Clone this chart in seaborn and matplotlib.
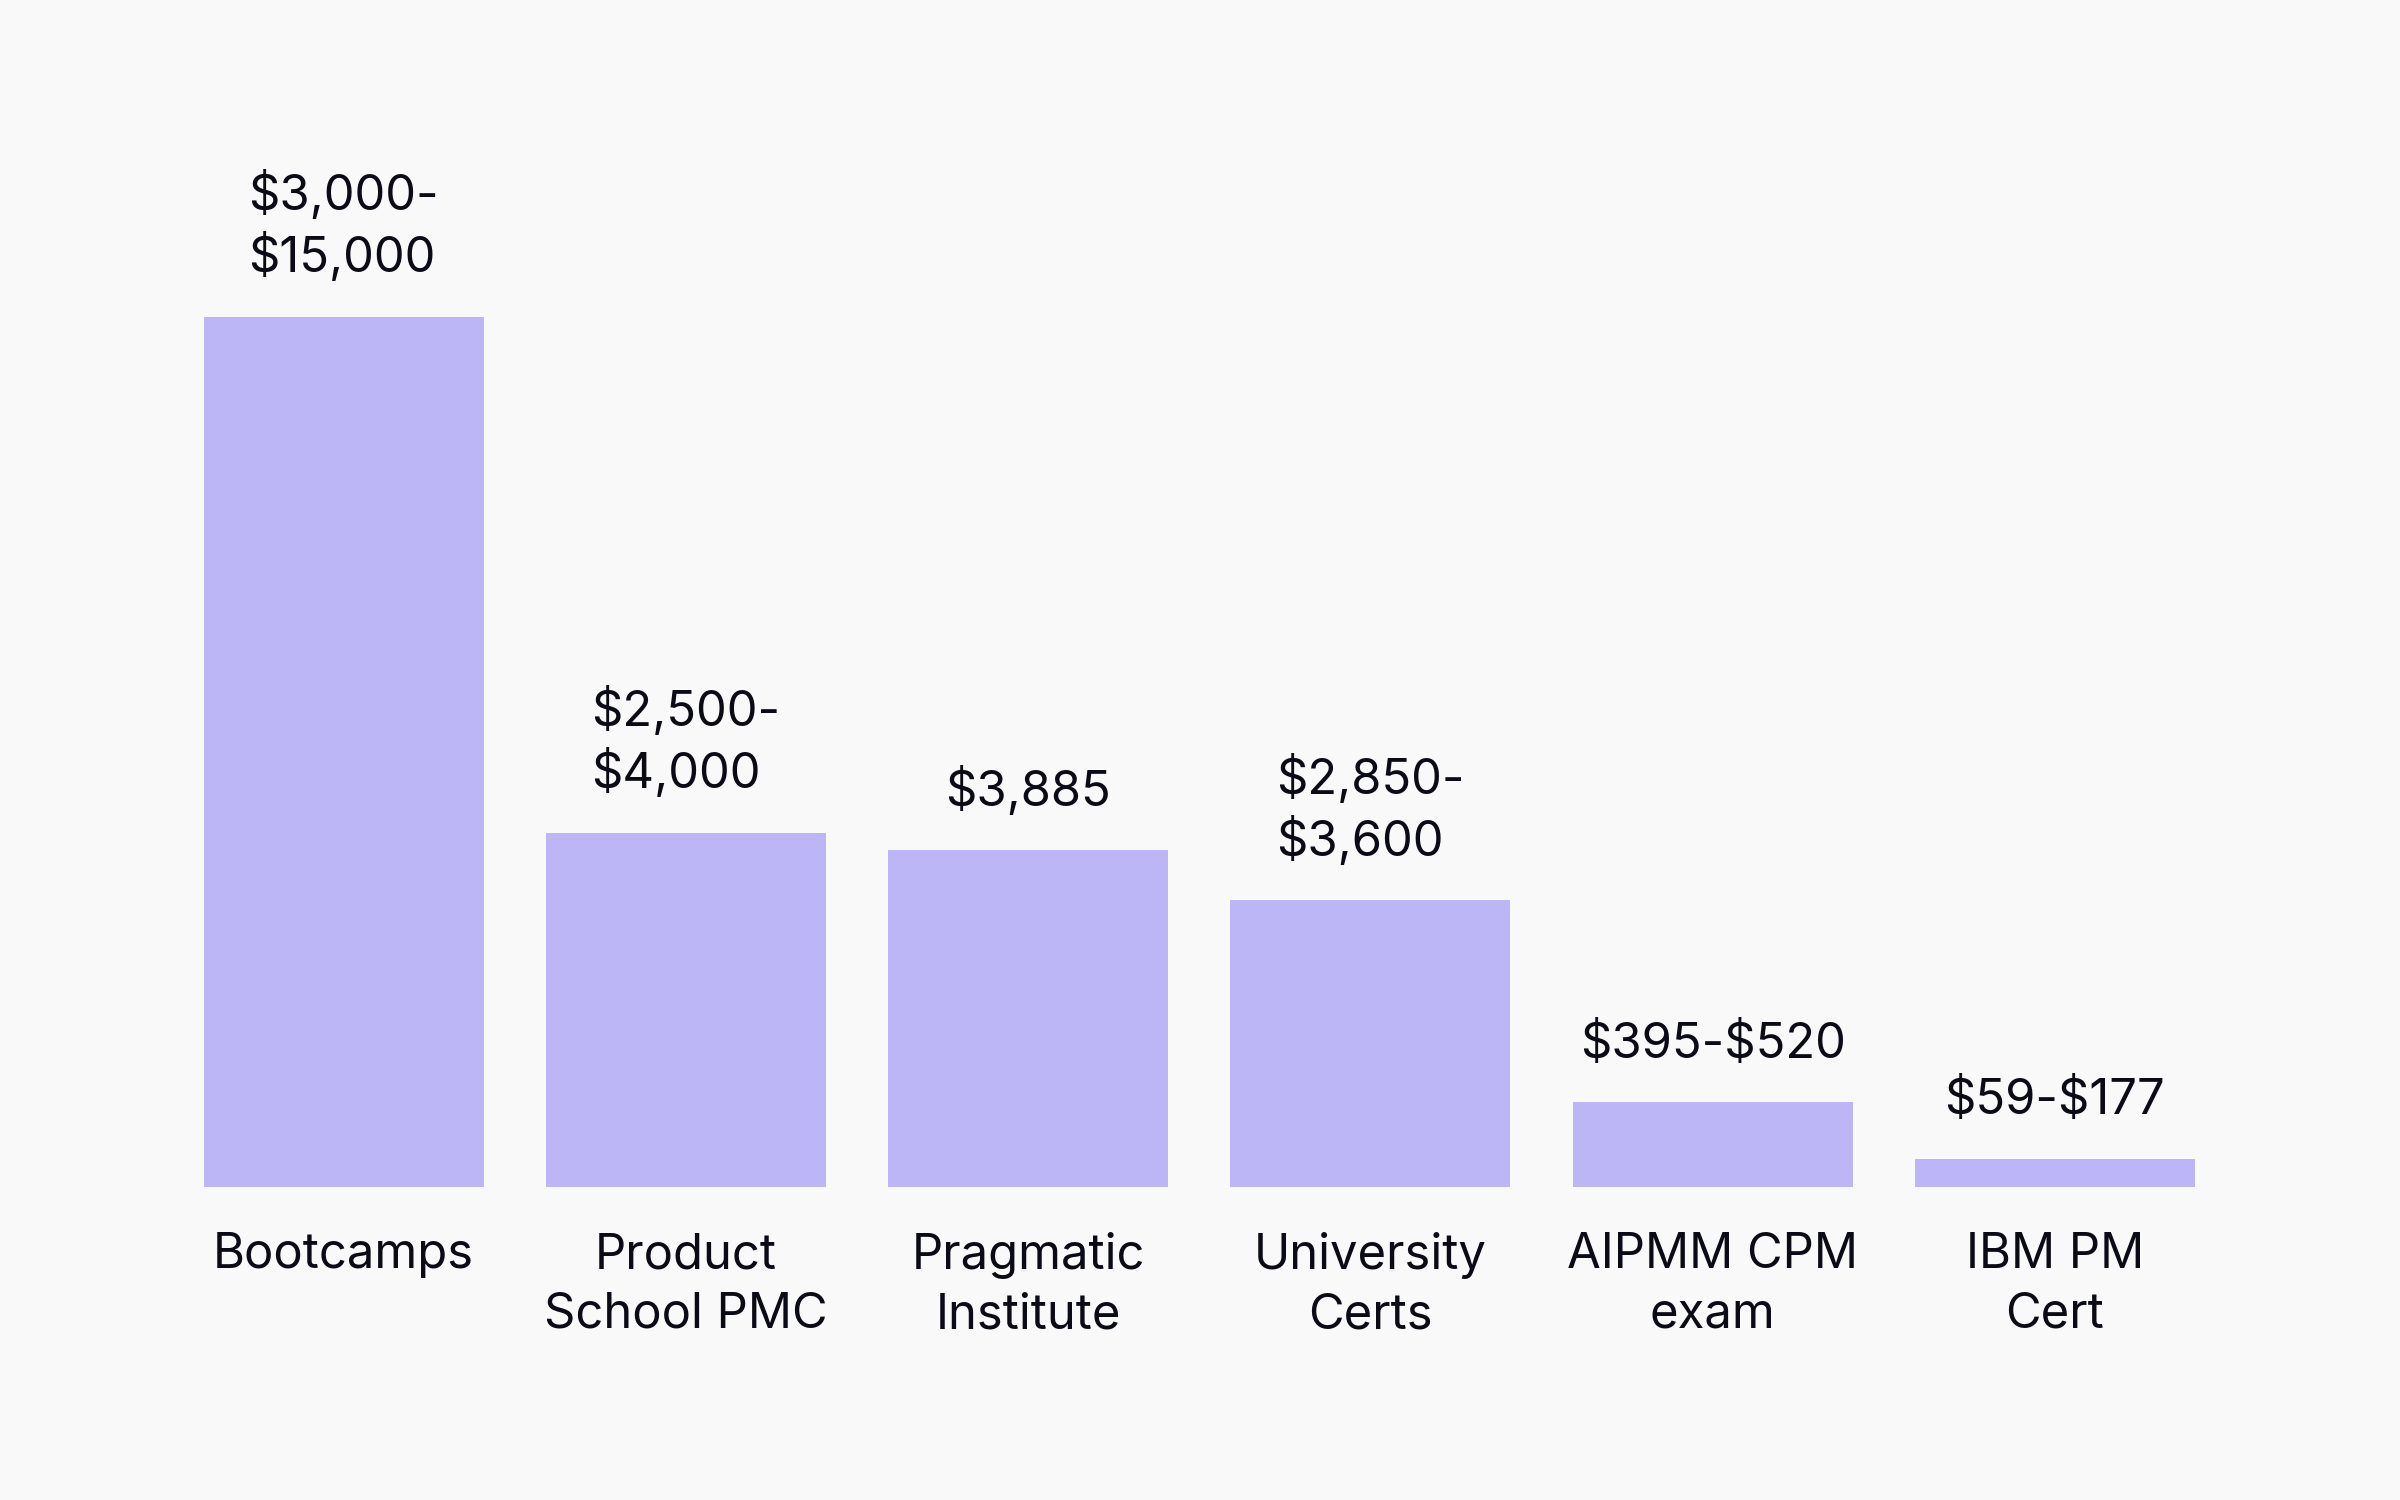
import matplotlib
matplotlib.use("Agg")
import matplotlib.pyplot as plt
import seaborn as sns
import pandas as pd

# Data (bar heights in relative units)
categories = ["Bootcamps", "Product\nSchool PMC", "Pragmatic\nInstitute",
              "University\nCerts", "AIPMM CPM\nexam", "IBM PM\nCert"]
heights = [100, 40.7, 38.7, 32.9, 9.7, 3.2]
value_labels = ["$3,000-\n$15,000", "$2,500-\n$4,000", "$3,885",
                "$2,850-\n$3,600", "$395-$520", "$59-$177"]

BG = "#f9f9f9"
BAR = "#bcb5f6"
TXT = "#0b0b16"

sns.set_theme(style="white")
plt.rcParams["font.family"] = ["Inter", "DejaVu Sans"]

fig = plt.figure(figsize=(16, 10), dpi=150, facecolor=BG)
ax = fig.add_axes([0.0719, 0.209, 0.8556, 0.5798])
ax.set_facecolor(BG)

df = pd.DataFrame({"category": categories, "height": heights})
sns.barplot(data=df, x="category", y="height", color=BAR, saturation=1,
            width=0.818, linewidth=0, ax=ax)

ax.set_xlim(-0.5, 5.5)
ax.set_ylim(0, 100)
for s in ax.spines.values():
    s.set_visible(False)
ax.set_yticks([])
ax.set_xlabel("")
ax.set_ylabel("")
ax.tick_params(axis="x", length=0, pad=22, labelsize=23.5, labelcolor=TXT)
for lbl in ax.get_xticklabels():
    lbl.set_linespacing(1.36)

for i, (h, t) in enumerate(zip(heights, value_labels)):
    ax.annotate(t, xy=(i, h), xytext=(0, 16.5), textcoords="offset points",
                ha="center", va="bottom", multialignment="left",
                fontsize=23.5, color=TXT, linespacing=1.3,
                annotation_clip=False, parse_math=False)

fig.savefig("out.png", dpi=150, facecolor=BG)
